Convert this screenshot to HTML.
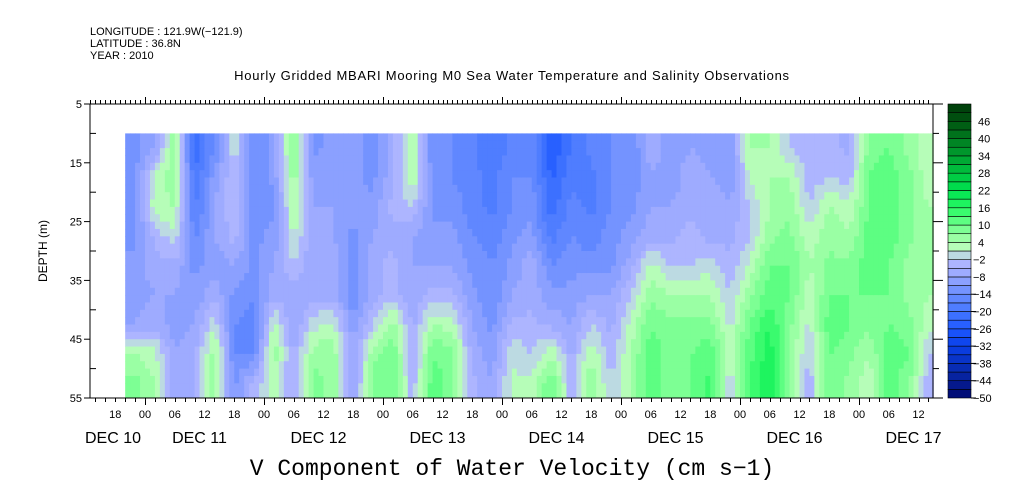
<!DOCTYPE html>
<html><head><meta charset="utf-8"><style>
body{margin:0;background:#fff;}
svg{display:block;font-family:"Liberation Sans",sans-serif;}
</style></head><body>
<svg id="chart" width="1009" height="504" viewBox="0 0 1009 504" xmlns="http://www.w3.org/2000/svg">
<g font-size="11" fill="#000">
<text x="90" y="35">LONGITUDE : 121.9W(−121.9)</text>
<text x="90" y="47">LATITUDE : 36.8N</text>
<text x="90" y="59">YEAR : 2010</text>
<text x="512" y="80" text-anchor="middle" font-size="13" letter-spacing="0.75">Hourly Gridded MBARI Mooring M0 Sea Water Temperature and Salinity Observations</text>
</g>
<g id="heat"></g>
<g id="axes"></g>
<g id="cbar"></g>
<text x="47" y="251" transform="rotate(-90 47 251)" text-anchor="middle" font-size="12">DEPTH (m)</text>
<text x="512" y="475" text-anchor="middle" font-size="23" font-family="Liberation Mono, monospace">V Component of Water Velocity (cm s−1)</text>
</svg>
<script>
// column start times (hours since Dec 10 00:00), 4-hour bins
const times = [20,24,28,32,36,40,44,48,52,56,60,64,68,72,76,80,84,88,92,96,100,104,108,112,116,120,124,128,132,136,140,144,148,152,156,160,164,168,172,176,180];
// depth bin centers (m)
const depths = [12.5,17.5,22.5,27.5,32.5,37.5,42.5,47.5,52.5];
// velocity (cm/s) per column, top->bottom
const vel = [
[-12,-12,-12,-12,-10,-10,-8,4,8],
[-8,2,3,-4,-6,-8,-6,2,4],
[6,6,4,0,-6,-8,-10,-8,-8],
[-22,-20,-18,-15,-12,-10,-8,-6,-6],
[-14,-10,-8,-8,-10,-6,0,6,6],
[0,-2,-2,-4,-8,-12,-14,-14,-12],
[-14,-14,-14,-12,-12,-14,-16,-14,-4],
[-10,-10,-12,-10,-8,-6,2,6,2],
[8,6,4,2,-2,-8,-8,-6,-6],
[-12,-10,-8,-8,-8,-6,0,6,8],
[-10,-8,-8,-8,-6,-6,2,6,6],
[-10,-10,-10,-12,-14,-14,-10,-8,-8],
[-12,-12,-10,-8,-6,-6,-2,6,8],
[-6,-6,-4,-6,-4,-4,6,10,10],
[4,4,-2,-8,-8,-8,-6,-6,-4],
[-14,-12,-12,-10,-8,-4,4,10,12],
[-14,-14,-12,-10,-8,-4,2,8,8],
[-16,-16,-16,-14,-12,-10,-8,-6,-4],
[-20,-18,-18,-16,-14,-14,-12,-10,-8],
[-16,-14,-14,-12,-10,-8,-4,0,2],
[-14,-14,-12,-10,-6,-6,-4,-2,2],
[-26,-24,-22,-18,-14,-10,-6,4,10],
[-20,-18,-16,-14,-12,-10,-8,-6,-4],
[-16,-18,-18,-16,-12,-8,-2,4,6],
[-14,-14,-14,-12,-12,-8,-6,-4,-2],
[-14,-14,-12,-10,-6,-2,2,4,4],
[-6,-8,-8,-6,2,6,10,12,12],
[-10,-10,-8,-6,-2,4,8,8,8],
[-8,-6,-6,-4,-2,4,8,10,10],
[-10,-8,-6,-6,0,4,8,12,14],
[-10,-10,-8,-6,-4,-2,0,2,-2],
[4,2,-2,-2,2,6,10,12,14],
[4,4,4,6,10,12,16,18,18],
[-2,4,6,8,10,10,8,6,6],
[-4,-4,-2,2,4,2,0,-2,-4],
[-4,-2,4,6,8,10,12,10,10],
[-6,-4,2,4,8,10,10,8,6],
[8,10,10,12,12,10,8,4,2],
[10,12,12,12,10,10,10,12,12],
[6,8,8,8,6,6,8,10,8],
[2,2,4,4,4,4,2,-2,-4]
];
const depthTicks = [5,15,25,35,45,55];
const cbarLabels = [46,40,34,28,22,16,10,4,-2,-8,-14,-20,-26,-32,-38,-44,-50];
const hourLabels = ["18","00","06","12","18","00","06","12","18","00","06","12","18","00","06","12","18","00","06","12","18","00","06","12","18","00","06","12","18","00","06","12"];
const dayLabels = ["DEC 10","DEC 11","DEC 12","DEC 13","DEC 14","DEC 15","DEC 16","DEC 17"];

const NS="http://www.w3.org/2000/svg";
const X0=90,X1=933,Y0=104,Y1=398;
const xs=t=>145+(t-24)*119/24;
const ys=d=>Y0+(d-5)*(Y1-Y0)/50;
const tEnd=183, dTop=10, dBot=55;

const anchors=[[-50,[0,8,110]],[-44,[6,30,150]],[-38,[8,48,190]],[-32,[10,64,232]],[-26,[30,88,255]],[-20,[70,120,255]],[-14,[104,140,255]],[-8,[150,166,255]],[-2,[180,186,255]],[1,[196,250,196]],[4,[168,255,172]],[10,[110,255,140]],[16,[40,250,100]],[22,[0,226,80]],[28,[0,196,64]],[34,[0,160,48]],[40,[0,124,32]],[46,[0,84,16]],[52,[0,60,10]]];
function col(v){
  const lv=Math.floor((v+50)/3); let c=-50+lv*3+1.5;
  c=Math.max(-50,Math.min(52,c));
  for(let i=0;i<anchors.length-1;i++){const a=anchors[i],b=anchors[i+1];
    if(c>=a[0]&&c<=b[0]){const f=(c-a[0])/(b[0]-a[0]);
      return 'rgb('+a[1].map((q,k)=>Math.round(q+(b[1][k]-q)*f)).join(',')+')';}}
  return c<0?'rgb(0,8,110)':'rgb(0,60,10)';
}
function mk(tag,attrs,parent){const e=document.createElementNS(NS,tag);for(const k in attrs)e.setAttribute(k,attrs[k]);parent.appendChild(e);return e;}

const heat=document.getElementById('heat');
const tc=times.map(t=>t+2);
function sample(t,d){
  let i=0;while(i<tc.length-2&&t>tc[i+1])i++;
  let fi=(t-tc[i])/(tc[i+1]-tc[i]);fi=Math.max(0,Math.min(1,fi));
  let j=0;while(j<depths.length-2&&d>depths[j+1])j++;
  let fj=(d-depths[j])/(depths[j+1]-depths[j]);fj=Math.max(0,Math.min(1,fj));
  const a=vel[i][j]*(1-fi)+vel[i+1][j]*fi, b=vel[i][j+1]*(1-fi)+vel[i+1][j+1]*fi;
  return a*(1-fj)+b*fj;
}
const dt=1, dd=1.25;
for(let t=times[0];t<tEnd;t+=dt){
  const x=xs(t), w=xs(Math.min(t+dt,tEnd))-x;
  for(let d=dTop;d<dBot;d+=dd){
    const y=ys(d), h=ys(d+dd)-y;
    const r=mk('rect',{x:x.toFixed(2),y:y.toFixed(2),width:(w+0.4).toFixed(2),height:(h+0.4).toFixed(2),fill:col(sample(t+dt/2,d+dd/2))},heat);
    
    
  }
}

const ax=document.getElementById('axes');
const frame=mk('rect',{x:X0,y:Y0,width:X1-X0,height:Y1-Y0,fill:'none',stroke:'#000','stroke-width':1},ax);


depthTicks.forEach(d=>{
  const y=ys(d);
  mk('line',{x1:X0-6,x2:X0,y1:y,y2:y,stroke:'#000'},ax);
  mk('line',{x1:X1,x2:X1+10,y1:y,y2:y,stroke:'#000'},ax);
  const tx=mk('text',{x:82,y:y+4,'text-anchor':'end','font-size':11},ax);tx.textContent=d;
  
  
});
[10,20,30,40,50].forEach(d=>{const y=ys(d);mk('line',{x1:X0,x2:X0+6,y1:y,y2:y,stroke:'#000'},ax);mk('line',{x1:X1,x2:X1+6,y1:y,y2:y,stroke:'#000'},ax);});
const tStart=13;
for(let t=tStart;t<=tEnd-1;t++){
  const x=Math.round(xs(t))+0.5; const major=t%24===0;
  mk('line',{x1:x,x2:x,y1:Y0,y2:Y0-(major?7:4),stroke:'#000'},ax);
  if(t%2===0) mk('line',{x1:x,x2:x,y1:Y1,y2:Y1+(major?7:4),stroke:'#000'},ax);
}
hourLabels.forEach((s,i)=>{const t=18+i*6; if(xs(t)>X1) return;
  const tx=mk('text',{x:xs(t),y:418,'text-anchor':'middle','font-size':11},ax);tx.textContent=s;
  
  });
dayLabels.forEach((s,i)=>{let cx=xs(12+i*24)-5;if(i===0)cx=113;const tx=mk('text',{x:cx,y:443,'text-anchor':'middle','font-size':16},ax);tx.textContent=s;
  
  });

const cb=document.getElementById('cbar');
const CX=948,CW=23,nb=34,bh=(398-104)/nb;
for(let k=0;k<nb;k++){
  const v=-50+k*3+1.5;
  const r=mk('rect',{x:CX,y:(398-(k+1)*bh).toFixed(2),width:CW,height:bh.toFixed(2),fill:col(v),stroke:'#000','stroke-width':0.6},cb);
  
  
}
const vy=v=>398-(v+50)*(398-104)/(nb*3);
cbarLabels.forEach(v=>{const y=vy(v);
  if(v<=-14) mk('line',{x1:CX+CW,x2:CX+CW+5,y1:y,y2:y,stroke:'#000'},cb);
  const tx=mk('text',{x:v<0?973:978,y:y+4,'font-size':11},cb);tx.textContent=v<0?'−'+(-v):v;
  
  });
</script>
</body></html>
